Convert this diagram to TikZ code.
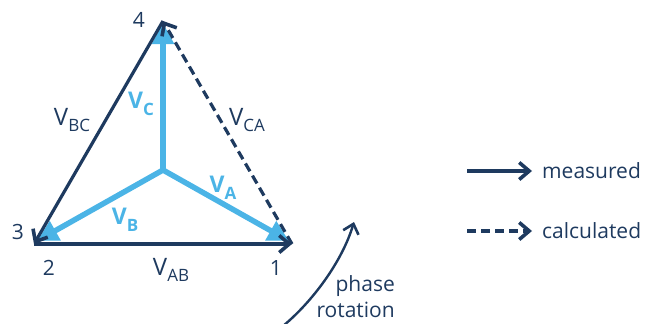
\documentclass[tikz,border=0pt]{standalone}
\usepackage{fontspec}
\setmainfont{Open Sans}
\usepackage{xcolor}
\usetikzlibrary{arrows.meta, positioning}
\definecolor{navy}{HTML}{1E3A5F}
\definecolor{skyblue}{HTML}{4BB4E6}
\newcommand{\vsub}[1]{\raisebox{-0.28em}{\fontsize{17}{17}\selectfont #1}}

\begin{document}
\begin{tikzpicture}[
  x=1pt, y=-1pt,
  txt/.style={inner sep=0pt, text=navy, font=\fontsize{21}{26}\selectfont},
  vlbl/.style={inner sep=0pt, text=navy, font=\fontsize{24}{26}\selectfont},
  plbl/.style={inner sep=0pt, text=skyblue, font=\fontsize{23}{26}\selectfont\bfseries},
  meas/.style={draw=navy, line width=3.2pt, -{Straight Barb[length=10pt, width=17pt, line width=3.6pt]}},
  calc/.style={meas, dash pattern=on 9pt off 5pt},
  phasor/.style={draw=skyblue, line width=5.5pt, -{Triangle[length=21pt, width=21pt]}}
]
\useasboundingbox (0,0) rectangle (654,324);

% Vertices
\coordinate (p4) at (163,21);
\coordinate (p3) at (34,244);
\coordinate (p1) at (292,244);
\coordinate (o) at (163,170);
\coordinate (a) at (289,241);
\coordinate (b) at (37,241);
\coordinate (c) at (163,23);

\node (n4) [txt] at (139,20) {4};
\node (n3) [txt] at (18,232) {3};
\node (n2) [txt] at (49,268) {2};
\node (n1) [txt] at (276,268) {1};

% Phasors
\draw [phasor] (o) -- (c);
\draw [phasor] (o) -- (b);
\draw [phasor] (o) -- (a);
\node (vc) [plbl] at (141,104) {V\vsub{C}};
\node (vb) [plbl] at (125,220) {V\vsub{B}};
\node (va) [plbl] at (223,188) {V\vsub{A}};

% Line voltages
\draw [meas] (p3) -- (p1);
\draw [meas] (p4) -- (p3);
\draw [calc] (p1) -- (p4);
\node (vab) [vlbl] at (171,270) {V\vsub{AB}};
\node (vbc) [vlbl] at (72,120) {V\vsub{BC}};
\node (vca) [vlbl] at (247,120) {V\vsub{CA}};

% Phase rotation
\coordinate (r0) at (283,326);
\coordinate (r1) at (354,222);
\draw [draw=navy, line width=2.4pt, -{Straight Barb[length=9pt, width=16pt, line width=2.6pt]}]
  (r0) .. controls (312,302) and (342,262) .. (r1);
\node (rot) [txt, align=right, anchor=east] at (395,297) {phase\\rotation};

% Legend
\coordinate (l1) at (467,171);
\coordinate (l2) at (532,171);
\coordinate (l3) at (467,231);
\coordinate (l4) at (532,231);
\draw [meas] (l1) -- (l2);
\draw [calc] (l3) -- (l4);
\node (measured) [txt, right=10pt of l2] {measured};
\node (calculated) [txt, right=10pt of l4] {calculated};
\end{tikzpicture}
\end{document}
